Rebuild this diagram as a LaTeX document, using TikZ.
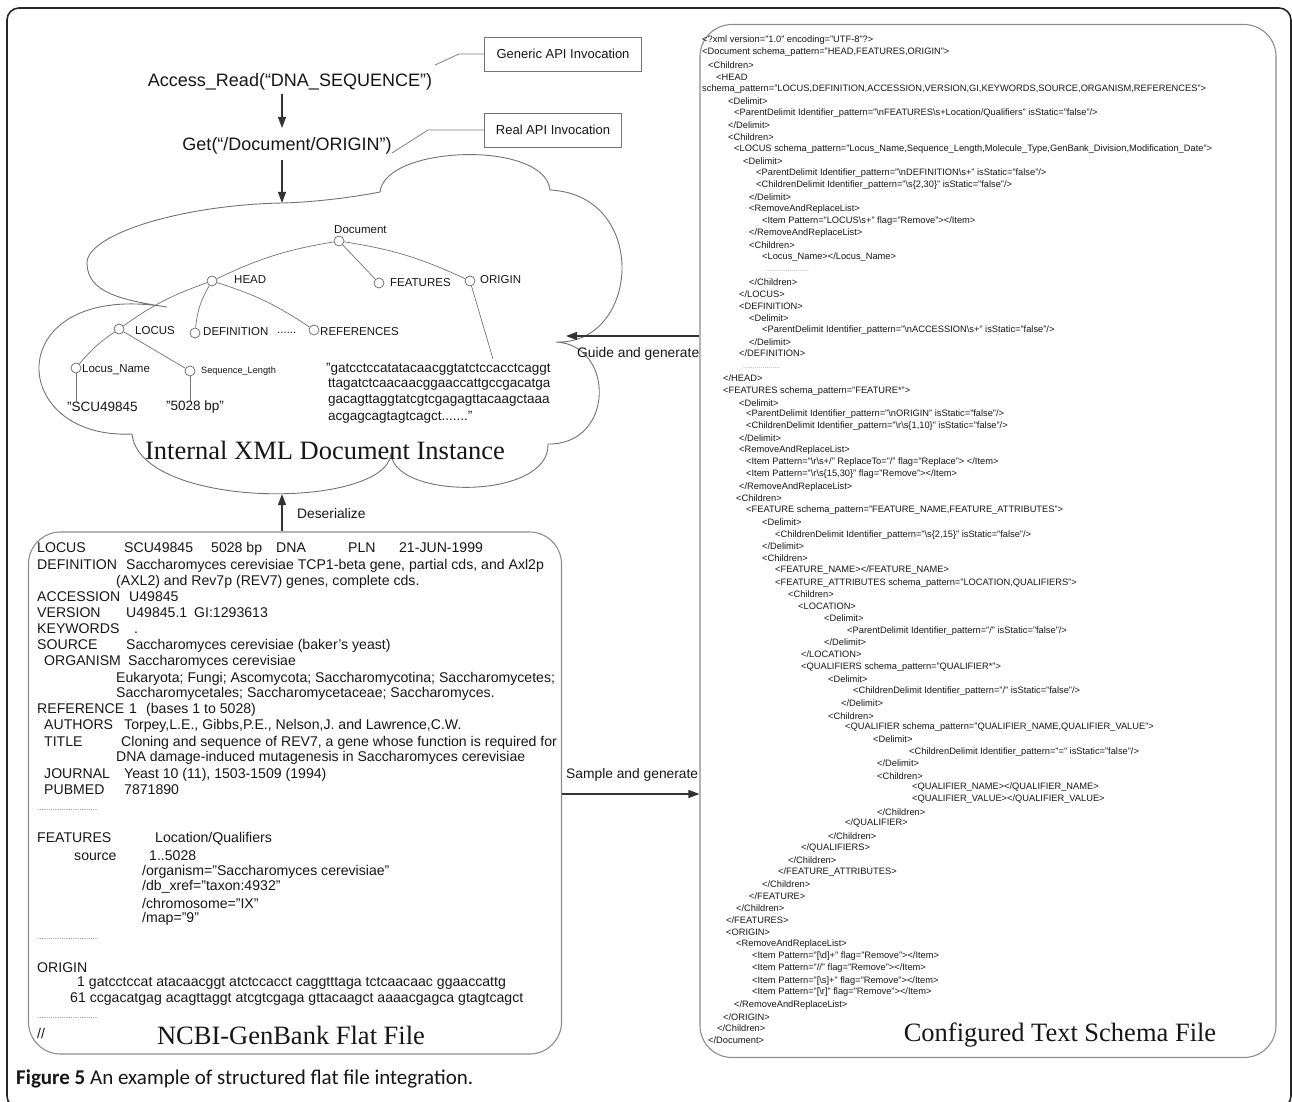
\documentclass[tikz,border=0pt]{standalone}
\usepackage{fontspec}
\setmainfont{Liberation Sans}
\newfontfamily\ttlfont{Liberation Serif}
\newfontfamily\capfont{Carlito}
\usetikzlibrary{arrows.meta}
\newcommand\bsl{\textbackslash}
\newcommand\fcol[2]{\makebox[#1pt][l]{#2}}
\newcommand\sline[4]{\node[sch] (#1) at (#2,#3) {#4};}
\definecolor{ink}{HTML}{161616}
\begin{document}
\begin{tikzpicture}[x=1pt,y=-1pt,
  every node/.style={inner sep=0pt, text=ink},
  frame/.style={draw=black!85, line width=1.6pt, rounded corners=12pt},
  panel/.style={draw=black!45, line width=1.1pt, rounded corners=32pt},
  cloudline/.style={draw=black!55, line width=0.9pt},
  tedge/.style={draw=black!55, line width=0.7pt},
  tn/.style={circle, draw=black!60, line width=0.7pt, minimum size=10pt},
  arr/.style={draw=black!80, line width=1.2pt, -{Triangle[length=11pt,width=8pt]}},
  callout/.style={draw=black!50, line width=0.8pt},
  apibox/.style={draw=black!55, line width=0.8pt, font=\fontsize{13}{15}\selectfont},
  big/.style={font=\fontsize{18}{20}\selectfont},
  lbl/.style={anchor=west, font=\fontsize{11.5}{13}\selectfont},
  alabel/.style={anchor=west, font=\fontsize{13.8}{15}\selectfont},
  seq/.style={anchor=west, font=\fontsize{13.5}{15}\selectfont},
  ff/.style={anchor=west, font=\fontsize{14.1}{15}\selectfont},
  ffdots/.style={anchor=west, font=\fontsize{8}{9}\selectfont, text=black!60},
  sch/.style={anchor=west, font=\fontsize{9.3}{10}\selectfont},
  schdots/.style={anchor=west, font=\fontsize{7}{8}\selectfont, text=black!45},
  ttl/.style={font=\ttlfont\fontsize{26.5}{28}\selectfont}
]
\useasboundingbox (0,0) rectangle (1292,1102);

% outer frame
\draw[frame] (7,8) rectangle (1291,1108);

% ---------------- API calls ----------------
\node[big] (acc) at (290,82) {Access\_Read(“DNA\_SEQUENCE”)};
\node[big] (get) at (287,146) {Get(“/Document/ORIGIN”)};
\node[apibox, minimum width=157pt, minimum height=34pt] (gen) at (563,54) {Generic API Invocation};
\node[apibox, minimum width=137pt, minimum height=34pt] (real) at (553,130) {Real API Invocation};
\coordinate (genfoot) at (435,65);
\coordinate (genbend) at (459,54);
\coordinate (realfoot) at (392,153);
\coordinate (realbend) at (428,130);
\draw[callout] (genfoot) -- (genbend) -- (gen.west);
\draw[callout] (realfoot) -- (realbend) -- (real.west);
\coordinate (accfoot) at (282,94);
\coordinate (gethead) at (282,128);
\coordinate (getfoot) at (282,160);
\draw[arr] (accfoot) -- (gethead);

% ---------------- cloud ----------------
\draw[cloudline] (380,192) .. controls (385,145) and (545,140) .. (550,190)
  .. controls (650,195) and (640,345) .. (556,342)
  .. controls (615,345) and (615,445) .. (548,444)
  .. controls (550,500) and (395,500) .. (391,454)
  .. controls (385,510) and (140,510) .. (132,434)
  .. controls (5,440) and (0,280) .. (167,307)
  .. controls (120,300) and (88,292) .. (87,264)
  .. controls (85,235) and (180,205) .. (282,203)
  .. controls (320,202) and (360,196) .. (380,192);
\coordinate (cloudtop) at (282,203);
\coordinate (cloudbot) at (282,494);
\coordinate (cloudright) at (566,336);
\draw[arr] (getfoot) -- (cloudtop);

% tree of the XML instance
\node[tn] (ndoc) at (339,241) {};
\node[tn] (nhead) at (212,281) {};
\node[tn] (nfeat) at (379,283) {};
\node[tn] (norig) at (470,281) {};
\node[tn] (nlocus) at (119,329) {};
\node[tn] (ndef) at (195,333) {};
\node[tn] (nref) at (314,330) {};
\node[tn] (nlname) at (76,368) {};
\node[tn] (nslen) at (190,371) {};

\node[lbl] (tdoc) at (334,230) {Document};
\node[lbl] (thead) at (234,280) {HEAD};
\node[lbl] (tfeat) at (390,283) {FEATURES};
\node[lbl] (torig) at (480,280) {ORIGIN};
\node[lbl] (tlocus) at (135,331) {LOCUS};
\node[lbl] (tdef) at (203,332) {DEFINITION};
\node[lbl] (tdots) at (277,333) {......};
\node[lbl] (tref) at (320,332) {REFERENCES};
\node[lbl] (tlname) at (82,370) {Locus\_Name};
\node[anchor=west, font=\fontsize{9.2}{10}\selectfont] (tslen) at (201,371) {Sequence\_Length};
\node[seq] (vscu) at (67,407) {"SCU49845};
\node[seq] (vbp) at (166,407) {"5028 bp"};
\node[seq] (sq1) at (326,369) {"gatcctccatatacaacggtatctccacctcaggt};
\node[seq] (sq2) at (328,385) {ttagatctcaacaacggaaccattgccgacatga};
\node[seq] (sq3) at (328,401) {gacagttaggtatcgtcgagagttacaagctaaa};
\node[seq] (sq4) at (328,417) {acgagcagtagtcagct.......”};
\coordinate (sqtop) at (493,359);

\draw[tedge] (ndoc) to[bend right=8] (nhead);
\draw[tedge] (ndoc) -- (nfeat);
\draw[tedge] (ndoc) to[bend left=8] (norig);
\draw[tedge] (nhead) to[bend right=8] (nlocus);
\draw[tedge] (nhead) to[bend right=12] (ndef);
\draw[tedge] (nhead) to[bend left=8] (nref);
\draw[tedge] (nlocus) to[bend right=8] (nlname);
\draw[tedge] (nlocus) -- (nslen);
\draw[tedge] (nlname) -- (vscu.north -| nlname);
\draw[tedge] (nslen) -- (vbp.north -| nslen);
\draw[tedge] (norig) -- (sqtop);

\node[ttl] (cloudttl) at (325,450) {Internal XML Document Instance};

% ---------------- flat file ----------------
\node[panel, minimum width=533pt, minimum height=522pt] (flat) at (295,793) {};
\draw[arr] (flat.north -| cloudbot) -- (cloudbot);
\node[alabel] (deser) at (297,514) {Deserialize};

\node[ff] (f1) at (37,549) {\fcol{87}{LOCUS}\fcol{87}{SCU49845}\fcol{65}{5028 bp}\fcol{72}{DNA}\fcol{51}{PLN}21-JUN-1999};
\node[ff] (f2) at (37,566) {\fcol{89}{DEFINITION}Saccharomyces cerevisiae TCP1-beta gene, partial cds, and Axl2p};
\node[ff] (f3) at (116,582) {(AXL2) and Rev7p (REV7) genes, complete cds.};
\node[ff] (f4) at (37,597) {\fcol{92}{ACCESSION}U49845};
\node[ff] (f5) at (37,613) {\fcol{89}{VERSION}\fcol{68}{U49845.1}GI:1293613};
\node[ff] (f6) at (37,629) {\fcol{97}{KEYWORDS}.};
\node[ff] (f7) at (37,646) {\fcol{89}{SOURCE}Saccharomyces cerevisiae (baker's yeast)};
\node[ff] (f8) at (44,662) {\fcol{84}{ORGANISM}Saccharomyces cerevisiae};
\node[ff] (f9) at (116,679) {Eukaryota; Fungi; Ascomycota; Saccharomycotina; Saccharomycetes;};
\node[ff] (f10) at (116,694) {Saccharomycetales; Saccharomycetaceae; Saccharomyces.};
\node[ff] (f11) at (37,710) {\fcol{92}{REFERENCE}\fcol{17}{1}(bases 1 to 5028)};
\node[ff] (f12) at (44,726) {\fcol{80}{AUTHORS}Torpey,L.E., Gibbs,P.E., Nelson,J. and Lawrence,C.W.};
\node[ff] (f13) at (44,743) {\fcol{77}{TITLE}Cloning and sequence of REV7, a gene whose function is required for};
\node[ff] (f14) at (116,758) {DNA damage-induced mutagenesis in Saccharomyces cerevisiae};
\node[ff] (f15) at (44,775) {\fcol{80}{JOURNAL}Yeast 10 (11), 1503-1509 (1994)};
\node[ff] (f16) at (44,790) {\fcol{80}{PUBMED}7871890};
\node[ffdots] (f17) at (37,810) {...........................};
\node[ff] (f18) at (37,839) {\fcol{118}{FEATURES}Location/Qualifiers};
\node[ff] (f19) at (74,856) {\fcol{75}{source}1..5028};
\node[ff] (f20) at (142,872) {/organism="Saccharomyces cerevisiae"};
\node[ff] (f21) at (142,887) {/db\_xref="taxon:4932"};
\node[ff] (f22) at (142,903) {/chromosome="IX"};
\node[ff] (f23) at (142,919) {/map="9"};
\node[ffdots] (f24) at (37,939) {...........................};
\node[ff] (f25) at (37,968) {ORIGIN};
\node[ff] (f26) at (77,983) {1 gatcctccat atacaacggt atctccacct caggtttaga tctcaacaac ggaaccattg};
\node[ff] (f27) at (70,999) {61 ccgacatgag acagttaggt atcgtcgaga gttacaagct aaaacgagca gtagtcagct};
\node[ffdots] (f28) at (37,1018) {...........................};
\node[ff] (f29) at (37,1033) {//};
\node[ttl] (flatttl) at (291,1035) {NCBI-GenBank Flat File};

% ---------------- schema file ----------------
\node[panel, minimum width=576pt, minimum height=1033pt] (schema) at (988,541) {};
\coordinate (guidey) at (0,336);
\coordinate (sampley) at (0,794);
\draw[arr] (schema.west |- guidey) -- (cloudright);
\node[alabel] (guide) at (577,354) {Guide and generate};
\draw[arr] (flat.east |- sampley) -- (schema.west |- sampley);
\node[alabel] (sample) at (566,775) {Sample and generate};

\sline{x1}{702}{40}{<?xml version="1.0" encoding="UTF-8"?>}
\sline{x2}{702}{52}{<Document schema\_pattern="HEAD,FEATURES,ORIGIN">}
\sline{x3}{708}{65}{<Children>}
\sline{x4}{716}{77}{<HEAD}
\sline{x5}{702}{89}{schema\_pattern="LOCUS,DEFINITION,ACCESSION,VERSION,GI,KEYWORDS,SOURCE,ORGANISM,REFERENCES">}
\sline{x6}{728}{101}{<Delimit>}
\sline{x7}{734}{113}{<ParentDelimit Identifier\_pattern="\bsl nFEATURES\bsl s+Location/Qualifiers" isStatic="false"/>}
\sline{x8}{728}{125}{</Delimit>}
\sline{x9}{728}{137}{<Children>}
\sline{x10}{734}{149}{<LOCUS schema\_pattern="Locus\_Name,Sequence\_Length,Molecule\_Type,GenBank\_Division,Modification\_Date">}
\sline{x11}{743}{161}{<Delimit>}
\sline{x12}{756}{173}{<ParentDelimit Identifier\_pattern="\bsl nDEFINITION\bsl s+" isStatic="false"/>}
\sline{x13}{756}{185}{<ChildrenDelimit Identifier\_pattern="\bsl s\{2,30\}" isStatic="false"/>}
\sline{x14}{749}{197}{</Delimit>}
\sline{x15}{749}{209}{<RemoveAndReplaceList>}
\sline{x16}{762}{221}{<Item Pattern="LOCUS\bsl s+" flag="Remove"></Item>}
\sline{x17}{749}{233}{</RemoveAndReplaceList>}
\sline{x18}{749}{245}{<Children>}
\sline{x19}{762}{257}{<Locus\_Name></Locus\_Name>}
\node[schdots] (x20) at (766,271) {......................};
\sline{x21}{749}{282}{</Children>}
\sline{x22}{739}{294}{</LOCUS>}
\sline{x23}{739}{306}{<DEFINITION>}
\sline{x24}{749}{318}{<Delimit>}
\sline{x25}{762}{330}{<ParentDelimit Identifier\_pattern="\bsl nACCESSION\bsl s+" isStatic="false"/>}
\sline{x26}{749}{342}{</Delimit>}
\sline{x27}{739}{353}{</DEFINITION>}
\node[schdots] (x28) at (743,368) {...................};
\sline{x29}{723}{378}{</HEAD>}
\sline{x30}{723}{391}{<FEATURES schema\_pattern="FEATURE*">}
\sline{x31}{739}{403}{<Delimit>}
\sline{x32}{746}{414}{<ParentDelimit Identifier\_pattern="\bsl nORIGIN" isStatic="false"/>}
\sline{x33}{746}{426}{<ChildrenDelimit Identifier\_pattern="\bsl r\bsl s\{1,10\}" isStatic="false"/>}
\sline{x34}{739}{438}{</Delimit>}
\sline{x35}{739}{450}{<RemoveAndReplaceList>}
\sline{x36}{746}{462}{<Item Pattern="\bsl r\bsl s+/" ReplaceTo="/" flag="Replace"> </Item>}
\sline{x37}{746}{474}{<Item Pattern="\bsl r\bsl s\{15,30\}" flag="Remove"></Item>}
\sline{x38}{739}{487}{</RemoveAndReplaceList>}
\sline{x39}{736}{498}{<Children>}
\sline{x40}{746}{510}{<FEATURE schema\_pattern="FEATURE\_NAME,FEATURE\_ATTRIBUTES">}
\sline{x41}{762}{522}{<Delimit>}
\sline{x42}{775}{535}{<ChildrenDelimit Identifier\_pattern="\bsl s\{2,15\}" isStatic="false"/>}
\sline{x43}{762}{546}{</Delimit>}
\sline{x44}{762}{558}{<Children>}
\sline{x45}{775}{570}{<FEATURE\_NAME></FEATURE\_NAME>}
\sline{x46}{775}{583}{<FEATURE\_ATTRIBUTES schema\_pattern="LOCATION,QUALIFIERS">}
\sline{x47}{788}{594}{<Children>}
\sline{x48}{798}{606}{<LOCATION>}
\sline{x49}{824}{618}{<Delimit>}
\sline{x50}{847}{631}{<ParentDelimit Identifier\_pattern="/" isStatic="false"/>}
\sline{x51}{824}{642}{</Delimit>}
\sline{x52}{801}{654}{</LOCATION>}
\sline{x53}{801}{667}{<QUALIFIERS schema\_pattern="QUALIFIER*">}
\sline{x54}{828}{679}{<Delimit>}
\sline{x55}{853}{691}{<ChildrenDelimit Identifier\_pattern="/" isStatic="false"/>}
\sline{x56}{841}{703}{</Delimit>}
\sline{x57}{828}{716}{<Children>}
\sline{x58}{845}{727}{<QUALIFIER schema\_pattern="QUALIFIER\_NAME,QUALIFIER\_VALUE">}
\sline{x59}{873}{739}{<Delimit>}
\sline{x60}{909}{752}{<ChildrenDelimit Identifier\_pattern="=" isStatic="false"/>}
\sline{x61}{877}{763}{</Delimit>}
\sline{x62}{877}{776}{<Children>}
\sline{x63}{912}{787}{<QUALIFIER\_NAME></QUALIFIER\_NAME>}
\sline{x64}{912}{799}{<QUALIFIER\_VALUE></QUALIFIER\_VALUE>}
\sline{x65}{877}{812}{</Children>}
\sline{x66}{845}{823}{</QUALIFIER>}
\sline{x67}{828}{836}{</Children>}
\sline{x68}{801}{848}{</QUALIFIERS>}
\sline{x69}{788}{860}{</Children>}
\sline{x70}{778}{872}{</FEATURE\_ATTRIBUTES>}
\sline{x71}{762}{884}{</Children>}
\sline{x72}{749}{896}{</FEATURE>}
\sline{x73}{736}{908}{</Children>}
\sline{x74}{726}{920}{</FEATURES>}
\sline{x75}{726}{932}{<ORIGIN>}
\sline{x76}{736}{944}{<RemoveAndReplaceList>}
\sline{x77}{752}{956}{<Item Pattern="[\bsl d]+" flag="Remove"></Item>}
\sline{x78}{752}{968}{<Item Pattern="//" flag="Remove"></Item>}
\sline{x79}{752}{981}{<Item Pattern="[\bsl s]+" flag="Remove"></Item>}
\sline{x80}{752}{992}{<Item Pattern="[\bsl r]" flag="Remove"></Item>}
\sline{x81}{734}{1005}{</RemoveAndReplaceList>}
\sline{x82}{723}{1017}{</ORIGIN>}
\sline{x83}{717}{1028}{</Children>}
\sline{x84}{708}{1040}{</Document>}
\node[ttl] (schttl) at (1060,1035) {Configured Text Schema File};

% ---------------- caption ----------------
\node[anchor=west, font=\capfont\fontsize{21}{23}\selectfont] (cap) at (16,1079) {\textbf{Figure 5} An example of structured flat file integration.};
\end{tikzpicture}
\end{document}
